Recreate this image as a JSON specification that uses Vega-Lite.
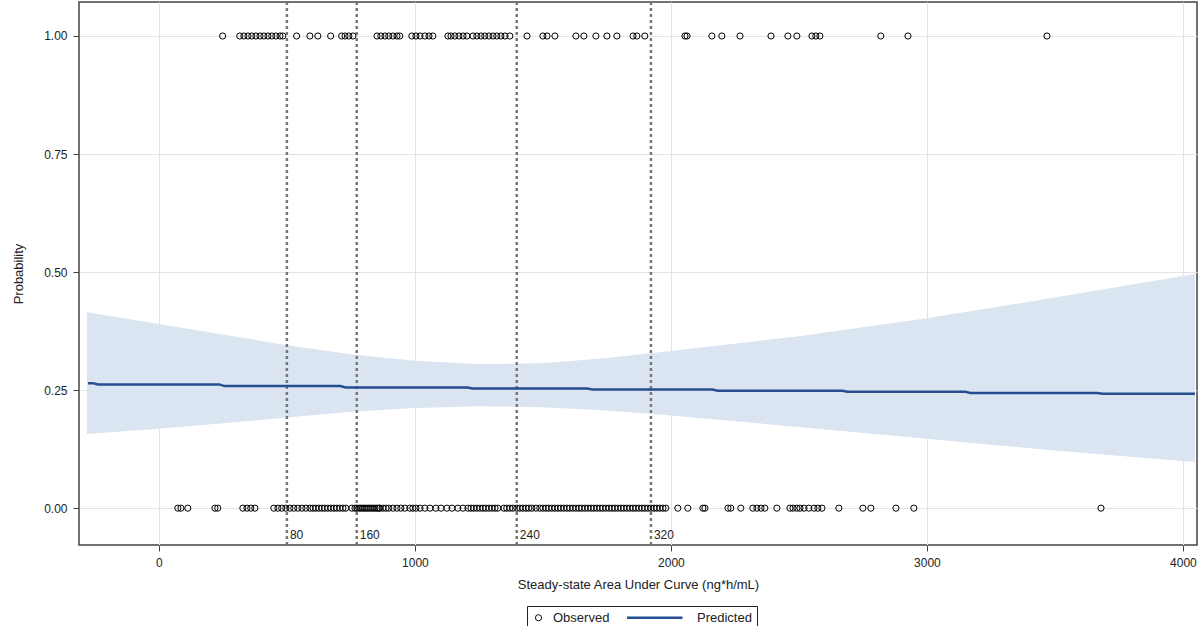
{
  "$schema": "https://vega.github.io/schema/vega-lite/v6.json",
  "width": 1118,
  "height": 543,
  "autosize": "none",
  "padding": {"left": 79, "top": 2, "right": 2, "bottom": 81},
  "background": "white",
  "config": {
    "font": "Liberation Sans",
    "view": {"stroke": "#444", "strokeWidth": 1.5},
    "axis": {"labelFont": "Liberation Sans", "titleFont": "Liberation Sans", "labelFontSize": 12, "titleFontSize": 13, "titleFontWeight": "normal", "labelColor": "#222", "titleColor": "#222", "gridColor": "#e3e3e3", "tickColor": "#444", "domain": false, "tickSize": 6},
    "legend": {"orient": "none", "legendX": 448, "legendY": 604, "direction": "horizontal", "strokeColor": "#222", "padding": 5, "labelFont": "Liberation Sans", "labelFontSize": 13, "labelColor": "#222", "columnPadding": 12, "labelOffset": 8, "symbolFillColor": "transparent", "symbolSize": 38}
  },
  "datasets": {
    "obs": [
      {"x": 249, "y": 1}, {"x": 316, "y": 1}, {"x": 332, "y": 1}, {"x": 348, "y": 1}, {"x": 363, "y": 1}, {"x": 379, "y": 1}, {"x": 395, "y": 1}, {"x": 410, "y": 1}, {"x": 426, "y": 1}, {"x": 441, "y": 1}, {"x": 457, "y": 1}, {"x": 473, "y": 1}, {"x": 484, "y": 1},
      {"x": 538, "y": 1}, {"x": 590, "y": 1}, {"x": 621, "y": 1}, {"x": 671, "y": 1}, {"x": 714, "y": 1}, {"x": 727, "y": 1}, {"x": 742, "y": 1}, {"x": 758, "y": 1},
      {"x": 852, "y": 1}, {"x": 867, "y": 1}, {"x": 883, "y": 1}, {"x": 898, "y": 1}, {"x": 914, "y": 1}, {"x": 930, "y": 1}, {"x": 941, "y": 1},
      {"x": 988, "y": 1}, {"x": 1004, "y": 1}, {"x": 1020, "y": 1}, {"x": 1039, "y": 1}, {"x": 1055, "y": 1}, {"x": 1070, "y": 1},
      {"x": 1129, "y": 1}, {"x": 1141, "y": 1}, {"x": 1156, "y": 1}, {"x": 1172, "y": 1}, {"x": 1188, "y": 1}, {"x": 1203, "y": 1},
      {"x": 1227, "y": 1}, {"x": 1242, "y": 1}, {"x": 1258, "y": 1}, {"x": 1273, "y": 1}, {"x": 1289, "y": 1}, {"x": 1305, "y": 1}, {"x": 1320, "y": 1}, {"x": 1336, "y": 1}, {"x": 1352, "y": 1}, {"x": 1371, "y": 1},
      {"x": 1438, "y": 1}, {"x": 1500, "y": 1}, {"x": 1516, "y": 1}, {"x": 1547, "y": 1}, {"x": 1629, "y": 1}, {"x": 1660, "y": 1}, {"x": 1707, "y": 1}, {"x": 1750, "y": 1}, {"x": 1789, "y": 1}, {"x": 1852, "y": 1}, {"x": 1867, "y": 1}, {"x": 1898, "y": 1},
      {"x": 2055, "y": 1}, {"x": 2063, "y": 1}, {"x": 2160, "y": 1}, {"x": 2199, "y": 1}, {"x": 2270, "y": 1}, {"x": 2391, "y": 1}, {"x": 2457, "y": 1}, {"x": 2492, "y": 1}, {"x": 2551, "y": 1}, {"x": 2566, "y": 1}, {"x": 2582, "y": 1}, {"x": 2820, "y": 1}, {"x": 2926, "y": 1}, {"x": 3469, "y": 1},
      {"x": 74, "y": 0}, {"x": 86, "y": 0}, {"x": 113, "y": 0}, {"x": 219, "y": 0}, {"x": 230, "y": 0}, {"x": 328, "y": 0}, {"x": 344, "y": 0}, {"x": 359, "y": 0}, {"x": 375, "y": 0},
      {"x": 449, "y": 0}, {"x": 465, "y": 0}, {"x": 480, "y": 0}, {"x": 496, "y": 0}, {"x": 512, "y": 0}, {"x": 527, "y": 0}, {"x": 543, "y": 0}, {"x": 559, "y": 0}, {"x": 574, "y": 0}, {"x": 590, "y": 0}, {"x": 602, "y": 0}, {"x": 613, "y": 0}, {"x": 625, "y": 0}, {"x": 637, "y": 0}, {"x": 648, "y": 0}, {"x": 660, "y": 0}, {"x": 672, "y": 0}, {"x": 684, "y": 0}, {"x": 695, "y": 0}, {"x": 707, "y": 0}, {"x": 719, "y": 0}, {"x": 730, "y": 0},
      {"x": 754, "y": 0}, {"x": 766, "y": 0}, {"x": 773, "y": 0}, {"x": 781, "y": 0}, {"x": 789, "y": 0}, {"x": 797, "y": 0}, {"x": 805, "y": 0}, {"x": 813, "y": 0}, {"x": 820, "y": 0}, {"x": 828, "y": 0}, {"x": 836, "y": 0}, {"x": 844, "y": 0}, {"x": 852, "y": 0}, {"x": 859, "y": 0},
      {"x": 863, "y": 0}, {"x": 875, "y": 0}, {"x": 887, "y": 0}, {"x": 898, "y": 0}, {"x": 914, "y": 0}, {"x": 930, "y": 0}, {"x": 945, "y": 0}, {"x": 961, "y": 0}, {"x": 980, "y": 0}, {"x": 992, "y": 0}, {"x": 1004, "y": 0}, {"x": 1020, "y": 0}, {"x": 1039, "y": 0}, {"x": 1059, "y": 0}, {"x": 1082, "y": 0}, {"x": 1102, "y": 0}, {"x": 1125, "y": 0}, {"x": 1145, "y": 0}, {"x": 1168, "y": 0}, {"x": 1188, "y": 0},
      {"x": 1207, "y": 0}, {"x": 1219, "y": 0}, {"x": 1230, "y": 0}, {"x": 1242, "y": 0}, {"x": 1254, "y": 0}, {"x": 1266, "y": 0}, {"x": 1277, "y": 0}, {"x": 1289, "y": 0}, {"x": 1301, "y": 0}, {"x": 1313, "y": 0}, {"x": 1324, "y": 0}, {"x": 1348, "y": 0}, {"x": 1359, "y": 0}, {"x": 1371, "y": 0}, {"x": 1383, "y": 0}, {"x": 1398, "y": 0}, {"x": 1410, "y": 0}, {"x": 1422, "y": 0}, {"x": 1434, "y": 0}, {"x": 1445, "y": 0}, {"x": 1457, "y": 0}, {"x": 1473, "y": 0}, {"x": 1488, "y": 0},
      {"x": 1500, "y": 0}, {"x": 1512, "y": 0}, {"x": 1523, "y": 0}, {"x": 1535, "y": 0}, {"x": 1547, "y": 0}, {"x": 1559, "y": 0}, {"x": 1570, "y": 0}, {"x": 1582, "y": 0}, {"x": 1594, "y": 0}, {"x": 1605, "y": 0}, {"x": 1617, "y": 0}, {"x": 1629, "y": 0}, {"x": 1641, "y": 0}, {"x": 1652, "y": 0}, {"x": 1664, "y": 0}, {"x": 1676, "y": 0}, {"x": 1688, "y": 0}, {"x": 1699, "y": 0}, {"x": 1711, "y": 0}, {"x": 1723, "y": 0}, {"x": 1734, "y": 0}, {"x": 1746, "y": 0}, {"x": 1758, "y": 0}, {"x": 1770, "y": 0}, {"x": 1781, "y": 0}, {"x": 1793, "y": 0}, {"x": 1805, "y": 0}, {"x": 1816, "y": 0}, {"x": 1828, "y": 0}, {"x": 1840, "y": 0}, {"x": 1852, "y": 0}, {"x": 1863, "y": 0}, {"x": 1875, "y": 0}, {"x": 1887, "y": 0}, {"x": 1898, "y": 0}, {"x": 1910, "y": 0}, {"x": 1922, "y": 0}, {"x": 1934, "y": 0}, {"x": 1945, "y": 0}, {"x": 1957, "y": 0}, {"x": 1969, "y": 0}, {"x": 1980, "y": 0},
      {"x": 2027, "y": 0}, {"x": 2066, "y": 0}, {"x": 2125, "y": 0}, {"x": 2133, "y": 0}, {"x": 2223, "y": 0}, {"x": 2234, "y": 0}, {"x": 2273, "y": 0}, {"x": 2320, "y": 0}, {"x": 2336, "y": 0}, {"x": 2352, "y": 0}, {"x": 2367, "y": 0}, {"x": 2414, "y": 0}, {"x": 2465, "y": 0}, {"x": 2477, "y": 0}, {"x": 2492, "y": 0}, {"x": 2504, "y": 0}, {"x": 2520, "y": 0}, {"x": 2539, "y": 0}, {"x": 2559, "y": 0}, {"x": 2574, "y": 0}, {"x": 2590, "y": 0}, {"x": 2656, "y": 0}, {"x": 2750, "y": 0}, {"x": 2781, "y": 0}, {"x": 2879, "y": 0}, {"x": 2949, "y": 0}, {"x": 3680, "y": 0}
    ],
    "band": [
      {"x": -281, "lo": 0.157, "hi": 0.415},
      {"x": 0, "lo": 0.168, "hi": 0.39},
      {"x": 250, "lo": 0.18, "hi": 0.368},
      {"x": 500, "lo": 0.192, "hi": 0.345},
      {"x": 750, "lo": 0.204, "hi": 0.326},
      {"x": 1000, "lo": 0.212, "hi": 0.312},
      {"x": 1250, "lo": 0.216, "hi": 0.305},
      {"x": 1500, "lo": 0.214, "hi": 0.307},
      {"x": 1750, "lo": 0.207, "hi": 0.318},
      {"x": 2000, "lo": 0.196, "hi": 0.333},
      {"x": 2500, "lo": 0.172, "hi": 0.364},
      {"x": 3000, "lo": 0.147, "hi": 0.402},
      {"x": 3500, "lo": 0.122, "hi": 0.446},
      {"x": 4047, "lo": 0.098, "hi": 0.496}
    ],
    "pred": [
      {"x": -277, "p": 0.2648}, {"x": -258, "p": 0.2648}, {"x": -238, "p": 0.2621}, {"x": 236, "p": 0.2621}, {"x": 256, "p": 0.2585}, {"x": 709, "p": 0.2585}, {"x": 729, "p": 0.2557}, {"x": 1205, "p": 0.2557}, {"x": 1225, "p": 0.2534}, {"x": 1674, "p": 0.2534}, {"x": 1694, "p": 0.2511}, {"x": 2162, "p": 0.2511}, {"x": 2182, "p": 0.2487}, {"x": 2670, "p": 0.2487}, {"x": 2690, "p": 0.2464}, {"x": 3150, "p": 0.2464}, {"x": 3170, "p": 0.2441}, {"x": 3666, "p": 0.2441}, {"x": 3686, "p": 0.2424}, {"x": 4047, "p": 0.2424}
    ],
    "refs": [
      {"x": 500, "label": "80"}, {"x": 773, "label": "160"}, {"x": 1398, "label": "240"}, {"x": 1922, "label": "320"}
    ]
  },
  "layer": [
    {
      "data": {"name": "band"},
      "mark": {"type": "area", "color": "#dbe4f1", "opacity": 1},
      "encoding": {
        "x": {"field": "x", "type": "quantitative", "scale": {"domain": [-312, 4055], "nice": false, "zero": false}, "axis": {"values": [0, 1000, 2000, 3000, 4000], "format": "d", "title": "Steady-state Area Under Curve (ng*h/mL)", "titlePadding": 10, "labelPadding": 6, "grid": true}},
        "y": {"field": "hi", "type": "quantitative", "scale": {"domain": [-0.078, 1.072], "nice": false, "zero": false}, "axis": {"values": [0, 0.25, 0.5, 0.75, 1], "format": ".2f", "title": "Probability", "titlePadding": 18, "labelPadding": 6, "grid": true}},
        "y2": {"field": "lo"}
      }
    },
    {
      "data": {"name": "refs"},
      "mark": {"type": "rule", "color": "#777", "strokeWidth": 2.5, "strokeDash": [3, 3]},
      "encoding": {"x": {"field": "x", "type": "quantitative"}}
    },
    {
      "data": {"name": "refs"},
      "mark": {"type": "text", "align": "left", "baseline": "middle", "dx": 3, "fontSize": 12, "color": "#222", "font": "Liberation Sans"},
      "encoding": {"x": {"field": "x", "type": "quantitative"}, "y": {"datum": -0.057}, "text": {"field": "label"}}
    },
    {
      "data": {"name": "pred"},
      "mark": {"type": "line", "color": "#254e91", "strokeWidth": 2.5},
      "encoding": {"x": {"field": "x", "type": "quantitative"}, "y": {"field": "p", "type": "quantitative"}}
    },
    {
      "data": {"name": "obs"},
      "transform": [{"calculate": "'Observed'", "as": "series"}],
      "mark": {"type": "point", "filled": false, "opacity": 1, "size": 38},
      "encoding": {
        "x": {"field": "x", "type": "quantitative"},
        "y": {"field": "y", "type": "quantitative"},
        "shape": {"field": "series", "type": "nominal", "scale": {"domain": ["Observed", "Predicted"], "range": ["circle", "M-18,0H0"]}, "legend": {"title": null}},
        "stroke": {"field": "series", "type": "nominal", "scale": {"domain": ["Observed", "Predicted"], "range": ["black", "#254e91"]}, "legend": {"title": null}},
        "strokeWidth": {"field": "series", "type": "nominal", "scale": {"domain": ["Observed", "Predicted"], "range": [1, 2.5]}, "legend": {"title": null}}
      }
    }
  ]
}
